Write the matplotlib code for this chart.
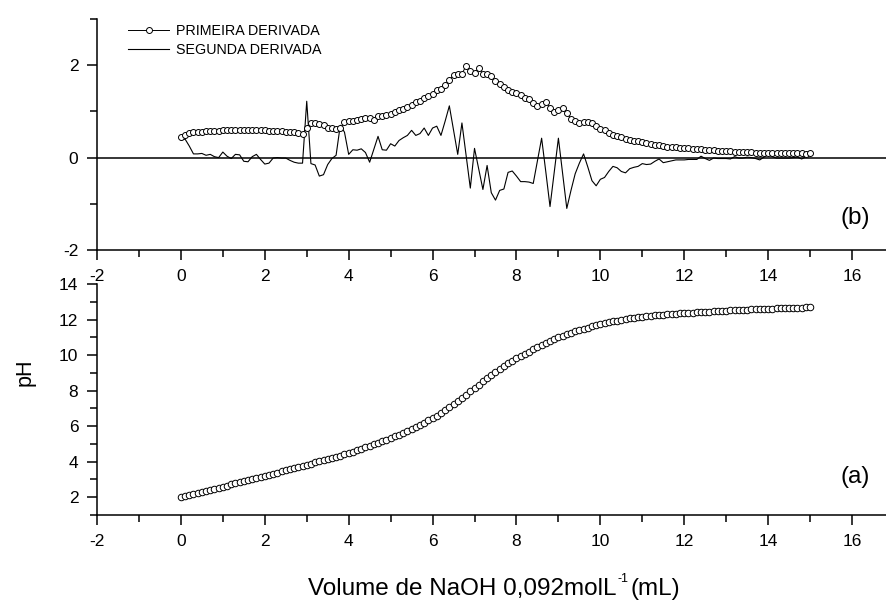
import matplotlib
matplotlib.use('Agg')
import matplotlib.pyplot as plt
from matplotlib.ticker import FixedLocator

plt.rcParams['font.family'] = ['Liberation Sans', 'DejaVu Sans']
plt.rcParams['axes.unicode_minus'] = False

# ---------------- data ----------------
volume = [
    0.0, 0.1, 0.2, 0.3, 0.4, 0.5, 0.6, 0.7, 0.8, 0.9,
    1.0, 1.1, 1.2, 1.3, 1.4, 1.5, 1.6, 1.7, 1.8, 1.9,
    2.0, 2.1, 2.2, 2.3, 2.4, 2.5, 2.6, 2.7, 2.8, 2.9,
    3.0, 3.1, 3.2, 3.3, 3.4, 3.5, 3.6, 3.7, 3.8, 3.9,
    4.0, 4.1, 4.2, 4.3, 4.4, 4.5, 4.6, 4.7, 4.8, 4.9,
    5.0, 5.1, 5.2, 5.3, 5.4, 5.5, 5.6, 5.7, 5.8, 5.9,
    6.0, 6.1, 6.2, 6.3, 6.4, 6.5, 6.6, 6.7, 6.8, 6.9,
    7.0, 7.1, 7.2, 7.3, 7.4, 7.5, 7.6, 7.7, 7.8, 7.9,
    8.0, 8.1, 8.2, 8.3, 8.4, 8.5, 8.6, 8.7, 8.8, 8.9,
    9.0, 9.1, 9.2, 9.3, 9.4, 9.5, 9.6, 9.7, 9.8, 9.9,
    10.0, 10.1, 10.2, 10.3, 10.4, 10.5, 10.6, 10.7, 10.8, 10.9,
    11.0, 11.1, 11.2, 11.3, 11.4, 11.5, 11.6, 11.7, 11.8, 11.9,
    12.0, 12.1, 12.2, 12.3, 12.4, 12.5, 12.6, 12.7, 12.8, 12.9,
    13.0, 13.1, 13.2, 13.3, 13.4, 13.5, 13.6, 13.7, 13.8, 13.9,
    14.0, 14.1, 14.2, 14.3, 14.4, 14.5, 14.6, 14.7, 14.8, 14.9,
    15.0,
]

ph = [
    2.00, 2.06, 2.12, 2.18, 2.23, 2.29, 2.35, 2.41, 2.47, 2.53,
    2.59, 2.65, 2.72, 2.78, 2.85, 2.91, 2.97, 3.03, 3.09, 3.15,
    3.21, 3.27, 3.33, 3.39, 3.45, 3.51, 3.57, 3.63, 3.69, 3.75,
    3.82, 3.89, 3.96, 4.03, 4.10, 4.16, 4.22, 4.28, 4.34, 4.41,
    4.49, 4.57, 4.65, 4.73, 4.81, 4.89, 4.98, 5.06, 5.15, 5.24,
    5.33, 5.42, 5.52, 5.62, 5.73, 5.84, 5.96, 6.08, 6.20, 6.32,
    6.45, 6.59, 6.74, 6.89, 7.05, 7.22, 7.40, 7.58, 7.77, 7.96,
    8.15, 8.34, 8.52, 8.70, 8.88, 9.05, 9.22, 9.38, 9.53, 9.68,
    9.82, 9.95, 10.08, 10.20, 10.33, 10.45, 10.57, 10.68, 10.79, 10.90,
    11.00, 11.09, 11.17, 11.25, 11.33, 11.40, 11.47, 11.54, 11.61, 11.67,
    11.73, 11.79, 11.84, 11.89, 11.94, 11.98, 12.02, 12.06, 12.09, 12.12,
    12.15, 12.18, 12.21, 12.23, 12.25, 12.27, 12.29, 12.31, 12.32, 12.34,
    12.35, 12.37, 12.39, 12.40, 12.42, 12.44, 12.45, 12.46, 12.47, 12.49,
    12.50, 12.51, 12.52, 12.53, 12.55, 12.56, 12.57, 12.58, 12.59, 12.60,
    12.61, 12.62, 12.63, 12.63, 12.64, 12.65, 12.66, 12.67, 12.67, 12.68,
    12.69,
]

primeira_derivada = [
    0.44, 0.49, 0.53, 0.55, 0.56, 0.56, 0.57, 0.57, 0.58, 0.58,
    0.59, 0.59, 0.59, 0.60, 0.60, 0.60, 0.59, 0.60, 0.60, 0.60,
    0.59, 0.58, 0.58, 0.57, 0.57, 0.56, 0.56, 0.55, 0.53, 0.52,
    0.64, 0.75, 0.74, 0.73, 0.71, 0.64, 0.63, 0.62, 0.64, 0.76,
    0.79, 0.80, 0.82, 0.83, 0.85, 0.86, 0.82, 0.89, 0.91, 0.93,
    0.95, 0.98, 1.02, 1.06, 1.09, 1.14, 1.20, 1.23, 1.28, 1.33,
    1.38, 1.46, 1.49, 1.57, 1.68, 1.79, 1.81, 1.81, 1.99, 1.88,
    1.84, 1.93, 1.82, 1.80, 1.77, 1.66, 1.59, 1.52, 1.46, 1.42,
    1.39, 1.35, 1.30, 1.26, 1.19, 1.12, 1.15, 1.20, 1.08, 0.98,
    1.04, 1.07, 0.96, 0.84, 0.80, 0.75, 0.78, 0.77, 0.74, 0.68,
    0.62, 0.59, 0.54, 0.50, 0.47, 0.44, 0.41, 0.39, 0.37, 0.35,
    0.33, 0.32, 0.30, 0.28, 0.27, 0.26, 0.24, 0.23, 0.22, 0.21,
    0.21, 0.20, 0.19, 0.18, 0.18, 0.17, 0.16, 0.16, 0.15, 0.15,
    0.14, 0.14, 0.13, 0.13, 0.12, 0.12, 0.12, 0.11, 0.11, 0.11,
    0.10, 0.10, 0.10, 0.10, 0.09, 0.09, 0.09, 0.09, 0.10, 0.08,
    0.09,
]

segunda_derivada = [
    0.38, 0.40, 0.25, 0.08, 0.08, 0.09, 0.05, 0.07, 0.02, 0.00,
    0.12, 0.03, -0.02, 0.07, 0.06, -0.08, -0.09, 0.02, 0.07, -0.04,
    -0.14, -0.12, -0.01, 0.00, -0.01, -0.01, -0.06, -0.10, -0.12, -0.12,
    1.22, -0.13, -0.16, -0.40, -0.37, -0.15, -0.02, 0.05, 0.70, 0.55,
    0.07, 0.17, 0.16, 0.19, 0.11, -0.10, 0.18, 0.46, 0.17, 0.16,
    0.30, 0.25, 0.37, 0.43, 0.48, 0.59, 0.48, 0.52, 0.64, 0.48,
    0.64, 0.68, 0.48, 0.79, 1.12, 0.60, 0.07, 0.75, 0.05, -0.66,
    0.20, -0.25, -0.69, -0.17, -0.76, -0.92, -0.71, -0.68, -0.32, -0.29,
    -0.40, -0.52, -0.52, -0.53, -0.56, -0.07, 0.42, -0.31, -1.06, -0.32,
    0.42, -0.34, -1.10, -0.71, -0.35, -0.12, 0.08, -0.20, -0.50, -0.61,
    -0.47, -0.43, -0.30, -0.19, -0.22, -0.30, -0.33, -0.24, -0.21, -0.19,
    -0.13, -0.15, -0.14, -0.08, -0.03, -0.11, -0.09, -0.07, -0.05, -0.05,
    -0.05, -0.04, -0.04, -0.04, 0.03, -0.02, -0.06, -0.01, -0.02, -0.02,
    -0.02, -0.03, 0.02, -0.01, -0.01, 0.01, 0.00, -0.02, -0.05, 0.01,
    0.06, 0.02, -0.01, -0.01, -0.01, -0.01, 0.00, 0.01, -0.03, 0.02,
    0.07,
]

x_major = [-2, 0, 2, 4, 6, 8, 10, 12, 14, 16]
x_minor = [-1, 1, 3, 5, 7, 9, 11, 13, 15]
top_y_major = [-2, 0, 2]
top_y_minor = [-1, 1, 3]
bot_y_major = [2, 4, 6, 8, 10, 12, 14]
bot_y_minor = [1, 3, 5, 7, 9, 11, 13]

xlabel_main = 'Volume de NaOH 0,092molL'
xlabel_sup = '-1'
xlabel_tail = '(mL)'

# ---------------- figure ----------------
W, H = 886, 601
fig = plt.figure(figsize=(W / 100, H / 100), dpi=100)
ax_top = fig.add_axes([97 / W, 1 - 250 / H, 789 / W, 231 / H])
ax_bot = fig.add_axes([97 / W, 1 - 515 / H, 789 / W, 231 / H])


def style(ax):
    for s in ('top', 'right'):
        ax.spines[s].set_visible(False)
    for s in ('left', 'bottom'):
        ax.spines[s].set_linewidth(1.1)
    ax.tick_params(which='major', direction='out', length=7.5, width=1.1,
                   labelsize=12.5, pad=6.0, colors='black')
    ax.tick_params(which='minor', direction='out', length=4.8, width=1.1)
    ax.xaxis.set_major_locator(FixedLocator(x_major))
    ax.xaxis.set_minor_locator(FixedLocator(x_minor))
    ax.set_xlim(-2, 16.81)


style(ax_top)
style(ax_bot)

# top panel: derivatives
ax_top.axhline(0, color='black', lw=1.1, zorder=1)
ax_top.plot(volume, primeira_derivada, '-o', color='black', lw=0.7,
            ms=4.3, mfc='white', mec='black', mew=0.7,
            label='PRIMEIRA DERIVADA', zorder=3)
ax_top.plot(volume, segunda_derivada, '-', color='black', lw=0.8,
            label='SEGUNDA DERIVADA', zorder=2)
ax_top.set_ylim(-2, 3)
ax_top.yaxis.set_major_locator(FixedLocator(top_y_major))
ax_top.yaxis.set_minor_locator(FixedLocator(top_y_minor))
ax_top.text(855 / W, 1 - 218 / H, '(b)', transform=fig.transFigure,
            ha='center', va='center', fontsize=17.5)

leg = ax_top.legend(loc='upper left', bbox_to_anchor=(128 / W, 1 - 24 / H),
                    bbox_transform=fig.transFigure, frameon=False,
                    fontsize=10.3, handlelength=2.9, handletextpad=0.45,
                    labelspacing=0.35, borderpad=0, borderaxespad=0)

# bottom panel: pH curve
ax_bot.plot(volume, ph, 'o', ms=4.7, mfc='white', mec='black', mew=0.7,
            color='black', zorder=3)
ax_bot.set_ylim(1, 14)
ax_bot.yaxis.set_major_locator(FixedLocator(bot_y_major))
ax_bot.yaxis.set_minor_locator(FixedLocator(bot_y_minor))
ax_bot.text(855 / W, 1 - 477 / H, '(a)', transform=fig.transFigure,
            ha='center', va='center', fontsize=17.5)

fig.text(25 / W, 1 - 372 / H, 'pH', rotation=90, ha='center', va='center',
         fontsize=15.5)

# x label composed of main text, small superscript and tail
renderer = fig.canvas.get_renderer()
base_y = 1 - 595 / H
t1 = fig.text(0, base_y, xlabel_main, ha='left', va='baseline', fontsize=17.5)
t2 = fig.text(0, base_y + 13 / H, xlabel_sup, ha='left', va='baseline',
              fontsize=9)
t3 = fig.text(0, base_y, xlabel_tail, ha='left', va='baseline', fontsize=17.5)
w1 = t1.get_window_extent(renderer).width
w2 = t2.get_window_extent(renderer).width
w3 = t3.get_window_extent(renderer).width
gap = 1.5
total = w1 + gap + w2 + gap + w3
x0 = 494 - total / 2
t1.set_x(x0 / W)
t2.set_x((x0 + w1 + gap) / W)
t3.set_x((x0 + w1 + gap + w2 + gap) / W)

fig.savefig('out.png', dpi=100)
